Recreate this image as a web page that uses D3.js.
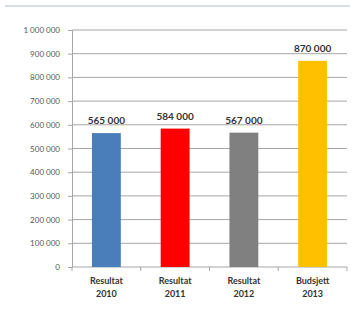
<!DOCTYPE html>
<html><head><meta charset="utf-8">
<script src="https://cdn.jsdelivr.net/npm/d3@7"></script>
<style>body{margin:0;background:#fff;}svg{display:block;}</style>
</head><body>
<script>
const categories = [["Resultat","2010"],["Resultat","2011"],["Resultat","2012"],["Budsjett","2013"]];
const values = [565000, 584000, 567000, 870000];
const valueLabels = ["565 000","584 000","567 000","870 000"];
const colors = ["#4a7ebb","#ff0000","#808080","#ffc000"];
const yTicks = [0,100000,200000,300000,400000,500000,600000,700000,800000,900000,1000000];

const W = 352, H = 317;
const m = {left:72, right:5, top:30, bottom:50};
const svg = d3.select("body").append("svg").attr("width",W).attr("height",H);

svg.append("line").attr("x1",5).attr("x2",350).attr("y1",6).attr("y2",6)
  .attr("stroke","#d9dee5").attr("stroke-width",2);

const x = d3.scaleBand().domain(d3.range(values.length)).range([m.left, W-m.right]).paddingInner(0.58).paddingOuter(0.29);
const y = d3.scaleLinear().domain([0,1000000]).range([H-m.bottom, m.top]);

const fmt = v => d3.format(",")(v).replace(/,/g," ");

// gridlines
svg.append("g").selectAll("line").data(yTicks.slice(1)).join("line")
  .attr("x1",m.left).attr("x2",W-m.right)
  .attr("y1",d=>y(d)).attr("y2",d=>y(d))
  .attr("stroke","#a6a6a6").attr("stroke-width",1);

const ya = svg.append("g").attr("transform",`translate(${m.left},0)`)
  .call(d3.axisLeft(y).tickValues(yTicks).tickFormat(fmt).tickSize(4).tickPadding(8));
ya.select(".domain").attr("stroke","#a6a6a6");
ya.selectAll(".tick line").attr("stroke","#a6a6a6");
ya.selectAll("text").attr("font-family","Lato, 'Liberation Sans', sans-serif").attr("font-size",8).attr("fill","#555");

// x axis
const bandStep = x.step();
const xa = svg.append("g").attr("transform",`translate(0,${y(0)})`);
xa.append("line").attr("x1",m.left).attr("x2",W-m.right).attr("stroke","#a6a6a6");
const bounds = d3.range(values.length+1).map(i => m.left + i*(W-m.right-m.left)/values.length);
xa.selectAll("line.t").data(bounds).join("line").attr("class","t")
  .attr("x1",d=>d).attr("x2",d=>d).attr("y1",0).attr("y2",4).attr("stroke","#a6a6a6");

svg.append("g").selectAll("rect").data(values).join("rect")
  .attr("x",(d,i)=>x(i)).attr("width",x.bandwidth())
  .attr("y",d=>y(d)).attr("height",d=>y(0)-y(d))
  .attr("fill",(d,i)=>colors[i]);

svg.append("g").selectAll("text").data(values).join("text")
  .attr("x",(d,i)=>x(i)+x.bandwidth()/2).attr("y",d=>y(d)-9)
  .attr("text-anchor","middle").attr("font-family","Lato, 'Liberation Sans', sans-serif")
  .attr("font-size",10).attr("font-weight","bold").attr("fill","#333")
  .text((d,i)=>valueLabels[i]);

const cl = svg.append("g").selectAll("text").data(categories).join("text")
  .attr("text-anchor","middle").attr("font-family","Lato, 'Liberation Sans', sans-serif")
  .attr("font-size",9).attr("font-weight","bold").attr("fill","#333");
cl.each(function(d,i){
  const t = d3.select(this);
  const cx = x(i)+x.bandwidth()/2;
  t.append("tspan").attr("x",cx).attr("y",y(0)+17).text(d[0]);
  t.append("tspan").attr("x",cx).attr("y",y(0)+30).text(d[1]);
});
</script>
</body></html>
